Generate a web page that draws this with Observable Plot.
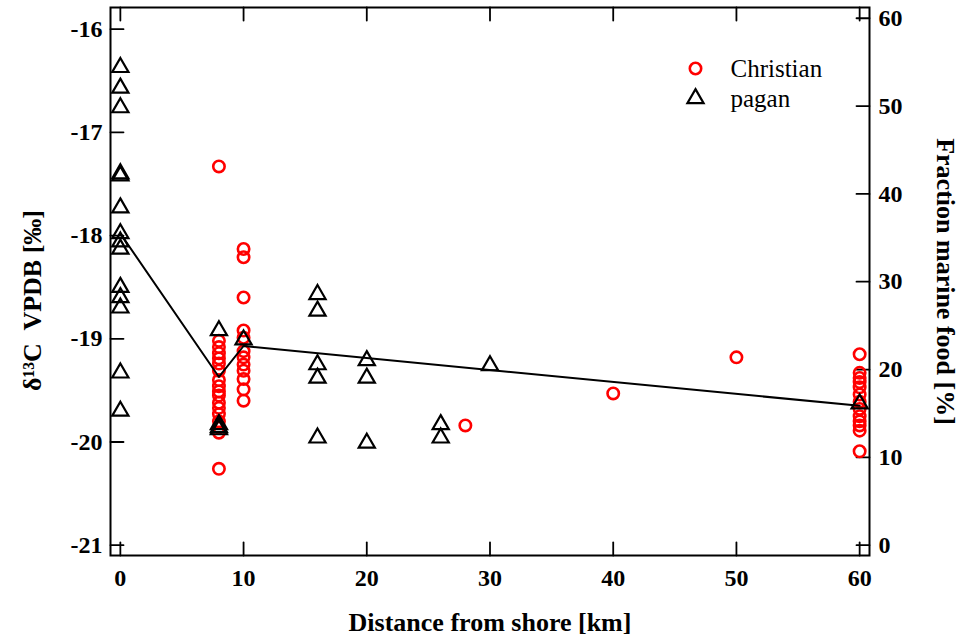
<!DOCTYPE html>
<html>
<head>
<meta charset="utf-8">
<script src="https://cdn.jsdelivr.net/npm/d3@7"></script>
<script src="https://cdn.jsdelivr.net/npm/@observablehq/plot@0.6"></script>
<style>
  html, body { margin: 0; padding: 0; background: #fff; }
</style>
</head>
<body>
<div id="chart"></div>
<script>
// Christian burials: distance from shore (km) and δ13C (‰ VPDB)
const christianDist = [8,8,8,8,8,8,8,8,8,8,8,8,8,8,8,8,8,8,
  10,10,10,10,10,10,10,10,10,10,10,10,
  28, 40, 50,
  60,60,60,60,60,60,60,60,60,60,60,60,60];
const christianD13C = [-17.33,-19.02,-19.08,-19.14,-19.19,-19.24,-19.31,-19.40,-19.46,-19.51,-19.55,-19.62,-19.67,-19.73,-19.80,-19.86,-19.91,-20.26,
  -18.13,-18.21,-18.60,-18.92,-18.99,-19.12,-19.18,-19.25,-19.31,-19.39,-19.49,-19.60,
  -19.84, -19.53, -19.18,
  -19.15,-19.33,-19.38,-19.42,-19.47,-19.54,-19.61,-19.68,-19.75,-19.80,-19.84,-19.89,-20.09];

// pagan burials
const paganDist = [0,0,0,0,0,0,0,0,0,0,0,0,0,0,
  8,8,8,8, 10,
  16,16,16,16,16, 20,20,20, 26,26, 30, 60];
const paganD13C = [-16.37,-16.57,-16.76,-17.40,-17.42,-17.73,-17.98,-18.06,-18.13,-18.50,-18.60,-18.70,-19.33,-19.70,
  -18.92,-19.83,-19.86,-19.88, -19.01,
  -18.57,-18.73,-19.25,-19.38,-19.96, -19.21,-19.38,-20.01, -19.83,-19.96, -19.26, -19.63];

// trend line
const trendDist = [0, 8, 10, 60];
const trendD13C = [-17.98, -19.37, -19.07, -19.65];

// axis ticks
const xTicks = [0, 10, 20, 30, 40, 50, 60];
const yTicks = [-16, -17, -18, -19, -20, -21];
const fracTicks = [0, 10, 20, 30, 40, 50, 60];
// fraction marine food (%) -> δ13C
const fracToD13C = f => -21 + f * 0.0851;

const christian = christianDist.map((d, i) => ({dist: d, d13c: christianD13C[i]}));
const pagan = paganDist.map((d, i) => ({dist: d, d13c: paganD13C[i]}));
const trend = trendDist.map((d, i) => ({dist: d, d13c: trendD13C[i]}));

const FONT = "'Liberation Serif', 'Times New Roman', serif";
const tickShape = { draw(ctx, l) { ctx.moveTo(0, 0); ctx.lineTo(0, -l); } };
const TL = 13;
const TF = 24; // tick label size
const AF = 26; // axis title size

const chart = Plot.plot({
  width: 961,
  height: 640,
  marginLeft: 110,
  marginRight: 92,
  marginTop: 7,
  marginBottom: 85,
  style: { fontFamily: FONT, fontSize: "22px", fontWeight: "bold", color: "black", background: "white" },
  x: { domain: [-0.8, 60.8], axis: null },
  y: { domain: [-21.1, -15.79], axis: null },
  marks: [
    // tick labels
    Plot.axisX(xTicks, { anchor: "bottom", label: null, tickSize: 0, tickPadding: 13, tickFormat: d => String(d), fontSize: TF, fontWeight: "bold" }),
    Plot.axisY(yTicks, { anchor: "left", label: null, tickSize: 0, tickPadding: 8, tickFormat: d => String(d), fontSize: TF, fontWeight: "bold" }),
    Plot.axisY(fracTicks.map(fracToD13C), { anchor: "right", label: null, tickSize: 0, tickPadding: 9, tickFormat: d => String(Math.round((d + 21) / 0.0851)), fontSize: TF, fontWeight: "bold" }),
    // inward ticks
    Plot.vector(xTicks, { x: d => d, frameAnchor: "bottom", anchor: "start", rotate: 0, length: TL, shape: tickShape, stroke: "black", strokeWidth: 1.8 }),
    Plot.vector(xTicks, { x: d => d, frameAnchor: "top", anchor: "start", rotate: 180, length: TL, shape: tickShape, stroke: "black", strokeWidth: 1.8 }),
    Plot.vector(yTicks, { y: d => d, frameAnchor: "left", anchor: "start", rotate: 90, length: TL, shape: tickShape, stroke: "black", strokeWidth: 1.8 }),
    Plot.vector(fracTicks, { y: fracToD13C, frameAnchor: "right", anchor: "start", rotate: -90, length: TL, shape: tickShape, stroke: "black", strokeWidth: 1.8 }),
    // data
    Plot.dot(christian, { x: "dist", y: "d13c", r: 5.7, stroke: "#ff0000", strokeWidth: 2.6, fill: "none" }),
    Plot.line(trend, { x: "dist", y: "d13c", stroke: "black", strokeWidth: 2 }),
    Plot.dot(pagan, { x: "dist", y: "d13c", symbol: "triangle", r: 6, stroke: "black", strokeWidth: 2.2, fill: "none" }),
    Plot.frame({ stroke: "black", strokeWidth: 2 }),
    // axis titles
    Plot.text(["Distance from shore [km]"], { frameAnchor: "bottom", dy: 67, lineAnchor: "middle", textAnchor: "middle", fontSize: AF, fontWeight: "bold" }),
    Plot.text(["δ¹³C  VPDB [‰]"], { frameAnchor: "left", dx: -78, dy: 19, rotate: -90, lineAnchor: "middle", textAnchor: "middle", fontSize: AF, fontWeight: "bold" }),
    Plot.text(["Fraction marine food [%]"], { frameAnchor: "right", dx: 76, rotate: 90, lineAnchor: "middle", textAnchor: "middle", fontSize: AF, fontWeight: "bold" }),
    // legend
    Plot.dot(["Christian"], { frameAnchor: "top-right", dx: -174, dy: 61, r: 5.7, stroke: "#ff0000", strokeWidth: 2.6, fill: "none" }),
    Plot.text(["Christian"], { frameAnchor: "top-right", dx: -139, dy: 61, textAnchor: "start", lineAnchor: "middle", fontSize: 25, fontWeight: "normal" }),
    Plot.dot(["pagan"], { frameAnchor: "top-right", dx: -174, dy: 91, symbol: "triangle", r: 6, stroke: "black", strokeWidth: 2.2, fill: "none" }),
    Plot.text(["pagan"], { frameAnchor: "top-right", dx: -139, dy: 91, textAnchor: "start", lineAnchor: "middle", fontSize: 25, fontWeight: "normal" })
  ]
});
document.getElementById("chart").appendChild(chart);
</script>
</body>
</html>
